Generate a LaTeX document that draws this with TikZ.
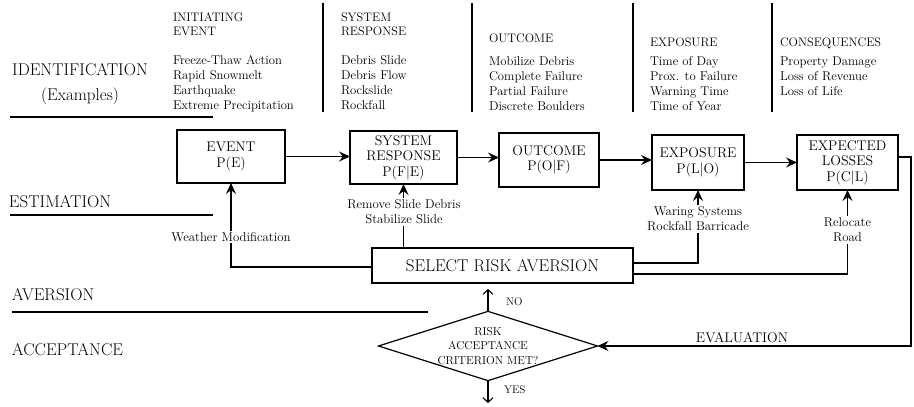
\documentclass[tikz,border=0pt]{standalone}
\usetikzlibrary{arrows.meta,shapes.geometric}
\begin{document}
\begin{tikzpicture}[x=1pt,y=-1pt,
  every node/.style={inner sep=0pt,outer sep=0pt},
  pbox/.style={draw,line width=1.2pt,align=center,font=\fontsize{14}{15.5}\selectfont},
  conn/.style={line width=1.1pt,-{Stealth[length=11pt,width=10pt,inset=4pt]}},
  barbarrow/.style={line width=1.1pt,-{Straight Barb[length=4.5pt,width=10pt]}},
  fblab/.style={align=center,font=\fontsize{12.8}{15}\selectfont,fill=white,inner sep=1.5pt},
  hdr/.style={align=left,anchor=north west,font=\fontsize{12.3}{14.5}\selectfont},
  itemlist/.style={align=left,anchor=north west,font=\fontsize{12.7}{15}\selectfont},
  sidelabel/.style={anchor=west,font=\fontsize{17}{24}\selectfont},
  sepline/.style={line width=1.3pt}]
\fill[white] (0,0) rectangle (914,407);
\useasboundingbox (0,0) rectangle (914,407);

% left labels
\node[align=center,font=\fontsize{17}{25}\selectfont] (ident) at (80,84) {IDENTIFICATION\\(Examples)};
\node[sidelabel] (estim) at (9,202) {ESTIMATION};
\node[sidelabel] (avers) at (12,295) {AVERSION};
\node[sidelabel] (accep) at (12,350) {ACCEPTANCE};
\draw[sepline] (10,117) -- (213,117);
\draw[sepline] (10,215) -- (213,215);
\draw[sepline] (12,312) -- (428,312);

% column separators
\foreach \xx in {323,472,633,772} \draw[line width=1.1pt] (\xx,3) -- (\xx,112);

% headers and examples
\node[hdr] (h1) at (173,12.5) {INITIATING\\EVENT};
\node[hdr] (h2) at (341,12.5) {SYSTEM\\RESPONSE};
\node[hdr] (h3) at (489,34) {OUTCOME};
\node[hdr] (h4) at (650,38) {EXPOSURE};
\node[hdr] (h5) at (780,38) {CONSEQUENCES};
\node[itemlist] (i1) at (173,55.5) {Freeze-Thaw Action\\Rapid Snowmelt\\Earthquake\\Extreme Precipitation};
\node[itemlist] (i2) at (341,55.5) {Debris Slide\\Debris Flow\\Rockslide\\Rockfall};
\node[itemlist] (i3) at (489,56.5) {Mobilize Debris\\Complete Failure\\Partial Failure\\Discrete Boulders};
\node[itemlist] (i4) at (650,56.5) {Time of Day\\Prox. to Failure\\Warning Time\\Time of Year};
\node[itemlist] (i5) at (780,56.5) {Property Damage\\Loss of Revenue\\Loss of Life};

% estimation boxes
\node[pbox,minimum width=108pt,minimum height=53pt] (ev) at (231,156.5) {EVENT\\P(E)};
\node[pbox,minimum width=107pt,minimum height=53pt] (sr) at (403.5,157.5) {SYSTEM\\RESPONSE\\P(F\textbar E)};
\node[pbox,minimum width=100pt,minimum height=54pt] (oc) at (549,160) {OUTCOME\\P(O\textbar F)};
\node[pbox,minimum width=92pt,minimum height=55pt] (ex) at (698,162.5) {EXPOSURE\\P(L\textbar O)};
\node[pbox,minimum width=101pt,minimum height=55pt] (el) at (847.5,162.5) {EXPECTED\\LOSSES\\P(C\textbar L)};
\node[pbox,minimum width=261pt,minimum height=35pt,font=\fontsize{17}{18}\selectfont] (sel) at (502.5,265.5) {SELECT RISK AVERSION};

% diamond
\node[diamond,draw,line width=1.2pt,aspect=3.16,minimum width=215pt,minimum height=68pt,align=center,font=\fontsize{11.5}{14.5}\selectfont] (dm) at (488,346) {RISK\\ACCEPTANCE\\CRITERION MET?};

% main chain
\draw[conn] (ev.east) -- (ev.east -| sr.west);
\draw[conn] (sr.east) -- (sr.east -| oc.west);
\draw[conn] (oc.east) -- (oc.east -| ex.west);
\draw[conn] (ex.east) -- (ex.east -| el.west);

% evaluation loop
\coordinate (rc) at (911,157);
\draw[conn] (el.east |- rc) -- (rc) |- (dm.east);
\node[font=\fontsize{14}{15}\selectfont] (evl) at (742,338) {EVALUATION};

% feedback from select risk aversion
\coordinate (wl) at (0,267);
\coordinate (er1) at (0,263);
\coordinate (er2) at (0,274);
\draw[conn] (sel.west |- wl) -| (ev.south);
\draw[conn] (sel.north -| sr.south) -- (sr.south);
\draw[conn] (sel.east |- er1) -| (ex.south);
\draw[conn] (sel.east |- er2) -| (el.south);
\node[fblab] (l1) at (231,237) {Weather Modification};
\node[fblab] (l2) at (404,212) {Remove Slide Debris\\Stabilize Slide};
\node[fblab] (l3) at (698,219) {Waring Systems\\Rockfall Barricade};
\node[fblab] (l4) at (847.5,230) {Relocate\\Road};

% decision outputs
\coordinate (noend) at (488,289);
\coordinate (yesend) at (488,403);
\draw[barbarrow] (dm.north) -- (noend);
\draw[barbarrow] (dm.south) -- (yesend);
\node[font=\fontsize{11}{12}\selectfont,anchor=west] (no) at (506,302) {NO};
\node[font=\fontsize{11}{12}\selectfont,anchor=west] (yes) at (504,390) {YES};
\end{tikzpicture}
\end{document}
